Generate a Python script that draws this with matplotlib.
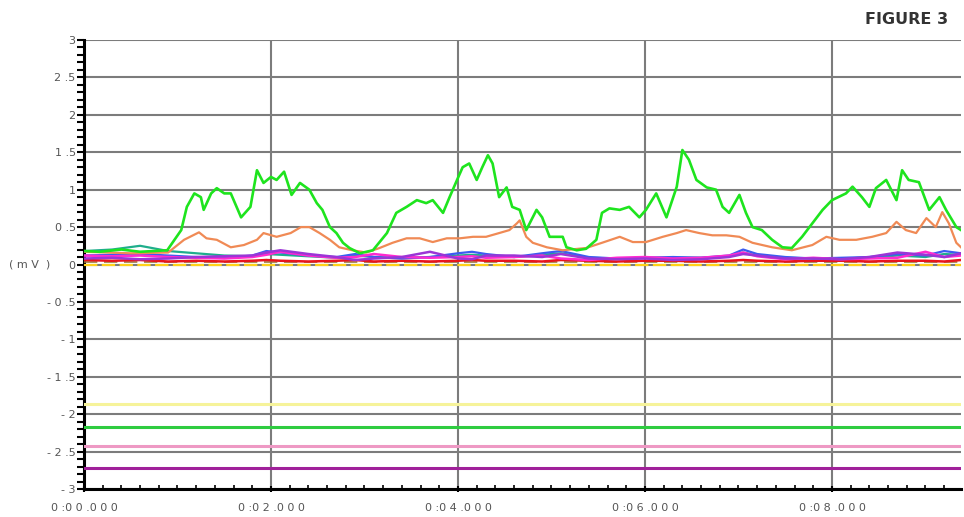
import numpy as np
import matplotlib
matplotlib.use("Agg")
import matplotlib.pyplot as plt

# --- data (time in seconds, values in mV) ---
green_t = [0.00, 0.17, 0.40, 0.60, 0.89, 1.04, 1.10, 1.18, 1.25, 1.28, 1.36, 1.42,
           1.50, 1.57, 1.68, 1.78, 1.85, 1.92, 2.00, 2.06, 2.14, 2.22, 2.31, 2.41,
           2.49, 2.55, 2.63, 2.70, 2.77, 2.84, 2.95, 3.09, 3.24, 3.34, 3.45, 3.56,
           3.66, 3.73, 3.84, 3.91, 3.99, 4.05, 4.12, 4.20, 4.26, 4.32, 4.37, 4.44,
           4.52, 4.58, 4.66, 4.73, 4.84, 4.90, 4.98, 5.12, 5.16, 5.27, 5.37, 5.48,
           5.54, 5.62, 5.73, 5.83, 5.94, 6.01, 6.12, 6.23, 6.34, 6.40, 6.47, 6.55,
           6.66, 6.76, 6.83, 6.90, 7.01, 7.08, 7.15, 7.25, 7.36, 7.47, 7.57, 7.68,
           7.79, 7.90, 8.00, 8.15, 8.22, 8.32, 8.40, 8.47, 8.58, 8.69, 8.75, 8.82,
           8.93, 9.04, 9.15, 9.22, 9.33, 9.38]
green_v = [0.18, 0.17, 0.20, 0.17, 0.19, 0.46, 0.77, 0.95, 0.90, 0.73, 0.95, 1.02,
           0.95, 0.95, 0.63, 0.77, 1.26, 1.09, 1.17, 1.13, 1.24, 0.93, 1.09, 1.00,
           0.82, 0.73, 0.50, 0.42, 0.29, 0.22, 0.15, 0.19, 0.42, 0.69, 0.77, 0.86,
           0.82, 0.86, 0.69, 0.90, 1.13, 1.30, 1.35, 1.13, 1.30, 1.46, 1.35, 0.90,
           1.03, 0.77, 0.73, 0.46, 0.73, 0.63, 0.37, 0.37, 0.23, 0.19, 0.21, 0.33,
           0.69, 0.75, 0.73, 0.77, 0.63, 0.73, 0.95, 0.63, 1.04, 1.53, 1.40, 1.13,
           1.03, 1.00, 0.77, 0.69, 0.93, 0.69, 0.50, 0.46, 0.33, 0.23, 0.22, 0.37,
           0.55, 0.73, 0.86, 0.95, 1.04, 0.90, 0.77, 1.02, 1.13, 0.86, 1.26, 1.13,
           1.10, 0.73, 0.90, 0.73, 0.50, 0.46]

orange_t = [0.00, 0.50, 0.90, 1.07, 1.23, 1.31, 1.42, 1.57, 1.71, 1.85, 1.92, 2.06,
            2.21, 2.32, 2.41, 2.52, 2.63, 2.73, 2.87, 3.02, 3.16, 3.30, 3.45, 3.59,
            3.73, 3.88, 4.02, 4.16, 4.30, 4.44, 4.55, 4.63, 4.66, 4.73, 4.80, 4.95,
            5.12, 5.37, 5.54, 5.73, 5.87, 6.01, 6.19, 6.34, 6.44, 6.58, 6.72, 6.87,
            7.01, 7.15, 7.36, 7.57, 7.79, 7.94, 8.08, 8.26, 8.43, 8.58, 8.69, 8.79,
            8.90, 9.01, 9.11, 9.18, 9.25, 9.33, 9.38]
orange_v = [0.17, 0.15, 0.16, 0.33, 0.43, 0.35, 0.33, 0.23, 0.26, 0.33, 0.42, 0.37,
            0.42, 0.50, 0.50, 0.42, 0.33, 0.23, 0.19, 0.16, 0.22, 0.29, 0.35, 0.35,
            0.30, 0.35, 0.35, 0.37, 0.37, 0.42, 0.46, 0.55, 0.59, 0.37, 0.29, 0.23,
            0.19, 0.22, 0.29, 0.37, 0.30, 0.30, 0.37, 0.42, 0.46, 0.42, 0.39, 0.39,
            0.37, 0.29, 0.23, 0.19, 0.26, 0.37, 0.33, 0.33, 0.37, 0.42, 0.57, 0.46,
            0.42, 0.62, 0.50, 0.70, 0.55, 0.29, 0.23]

low_t = [0, 0.3, 0.6, 0.9, 1.2, 1.5, 1.8, 1.95, 2.1, 2.4, 2.7, 2.9, 3.1, 3.4, 3.7,
         4.0, 4.15, 4.3, 4.6, 4.9, 5.1, 5.4, 5.7, 6.0, 6.3, 6.6, 6.9, 7.05, 7.2,
         7.5, 7.8, 8.1, 8.4, 8.7, 9.0, 9.2, 9.38]
teal_v = [0.18, 0.20, 0.25, 0.18, 0.15, 0.12, 0.11, 0.14, 0.13, 0.11, 0.09, 0.12,
          0.10, 0.09, 0.10, 0.12, 0.13, 0.12, 0.10, 0.13, 0.15, 0.09, 0.08, 0.09,
          0.09, 0.09, 0.11, 0.16, 0.12, 0.09, 0.08, 0.08, 0.09, 0.12, 0.10, 0.14, 0.13]
blue_v = [0.12, 0.13, 0.14, 0.12, 0.10, 0.09, 0.12, 0.18, 0.16, 0.12, 0.10, 0.14,
          0.10, 0.08, 0.10, 0.15, 0.17, 0.14, 0.10, 0.15, 0.18, 0.10, 0.08, 0.09,
          0.10, 0.09, 0.12, 0.20, 0.14, 0.10, 0.08, 0.09, 0.10, 0.14, 0.12, 0.18, 0.15]
purple_v = [0.08, 0.09, 0.07, 0.08, 0.10, 0.11, 0.12, 0.16, 0.19, 0.14, 0.10, 0.06,
            0.08, 0.10, 0.17, 0.08, 0.07, 0.12, 0.12, 0.10, 0.14, 0.08, 0.07, 0.08,
            0.06, 0.07, 0.10, 0.14, 0.12, 0.08, 0.08, 0.07, 0.10, 0.16, 0.13, 0.10, 0.15]
magenta_v = [0.12, 0.11, 0.12, 0.10, 0.09, 0.08, 0.10, 0.13, 0.17, 0.12, 0.09, 0.10,
             0.14, 0.10, 0.09, 0.10, 0.11, 0.09, 0.10, 0.12, 0.08, 0.06, 0.09, 0.10,
             0.08, 0.09, 0.12, 0.16, 0.11, 0.07, 0.09, 0.07, 0.08, 0.09, 0.17, 0.10, 0.12]
red_v = [0.06, 0.05, 0.06, 0.04, 0.05, 0.04, 0.05, 0.06, 0.05, 0.04, 0.05, 0.06,
         0.04, 0.05, 0.04, 0.05, 0.06, 0.05, 0.05, 0.04, 0.06, 0.05, 0.04, 0.05,
         0.05, 0.04, 0.05, 0.06, 0.05, 0.04, 0.05, 0.05, 0.04, 0.05, 0.05, 0.04, 0.06]

flat_t = [0.0, 9.38]
olive_v = [0.03, 0.03]
yellow_v = [0.0, 0.0]

# constant reference levels near the bottom
level_vals = [-1.86, -2.17, -2.42, -2.72]
level_cols = ["#f6f39a", "#2ecc40", "#ee99c4", "#a0209a"]

y_ticks = [3, 2.5, 2, 1.5, 1, 0.5, 0, -0.5, -1, -1.5, -2, -2.5, -3]
y_labels = ["3", "2 .5", "2", "1 .5", "1", "0 .5", "0", "- 0 .5", "- 1",
            "- 1 .5", "- 2", "- 2 .5", "- 3"]
x_ticks = [0, 2, 4, 6, 8]
x_labels = ["0 :0 0 .0 0 0", "0 :0 2 .0 0 0", "0 :0 4 .0 0 0", "0 :0 6 .0 0 0",
            "0 :0 8 .0 0 0"]
unit_label = "( m V  )"

fig = plt.figure(figsize=(9.64, 5.17), dpi=100)
ax = fig.add_axes([84 / 964, 1 - 489 / 517, 877 / 964, 449 / 517])

for v, c in zip(level_vals, level_cols):
    ax.plot(flat_t, [v, v], color=c, lw=2.2, zorder=3)

ax.plot(flat_t, yellow_v, color="#ffd21a", lw=1.6, ls=(0, (6, 2)), zorder=3)
ax.plot(flat_t, olive_v, color="#9a7a40", lw=1.2, ls=(0, (8, 4)), zorder=3)
ax.plot(low_t, red_v, color="#e8141c", lw=1.8, zorder=4)
ax.plot(low_t, teal_v, color="#1fae8c", lw=1.6, zorder=4)
ax.plot(low_t, blue_v, color="#3b5cf0", lw=1.6, zorder=4)
ax.plot(low_t, magenta_v, color="#ff2ad0", lw=1.8, zorder=4)
ax.plot(low_t, purple_v, color="#9b35d6", lw=1.8, zorder=4)
ax.plot(orange_t, orange_v, color="#f08a55", lw=1.6, zorder=5)
ax.plot(green_t, green_v, color="#1ee41e", lw=1.9, zorder=6)

ax.set_xlim(0, 9.38)
ax.set_ylim(-3, 3)
ax.set_yticks(y_ticks)
ax.set_yticklabels(y_labels)
ax.set_xticks(x_ticks)
ax.set_xticklabels(x_labels)
ax.set_yticks(np.arange(-3, 3.01, 0.1), minor=True)
ax.set_xticks(np.arange(0, 9.38, 0.2), minor=True)

ax.grid(True, which="major", color="#7c7c7c", lw=1.5, zorder=1)
ax.set_axisbelow(True)
for s in ["top", "right"]:
    ax.spines[s].set_visible(False)
ax.spines["left"].set_linewidth(2.2)
ax.spines["bottom"].set_linewidth(2.2)

ax.tick_params(axis="y", which="major", length=5, width=1.5, labelsize=8,
               labelcolor="#555555", pad=1)
ax.tick_params(axis="y", which="minor", length=5, width=1.5)
ax.tick_params(axis="x", which="major", length=4, width=1.5, direction="inout",
               labelsize=8, labelcolor="#555555", pad=8)
ax.tick_params(axis="x", which="minor", length=3, width=1.2, direction="in")

# unit label sits left of the 0 tick, as in the original
ax.text(-0.085, 0, unit_label, transform=ax.get_yaxis_transform(), ha="left",
        va="center", fontsize=8, color="#555555")

fig.text(948 / 964, 1 - 19 / 517, "FIGURE 3", ha="right", va="center",
         fontsize=11.5, fontweight="bold", color="#333333")

fig.savefig("out.png", dpi=100)
